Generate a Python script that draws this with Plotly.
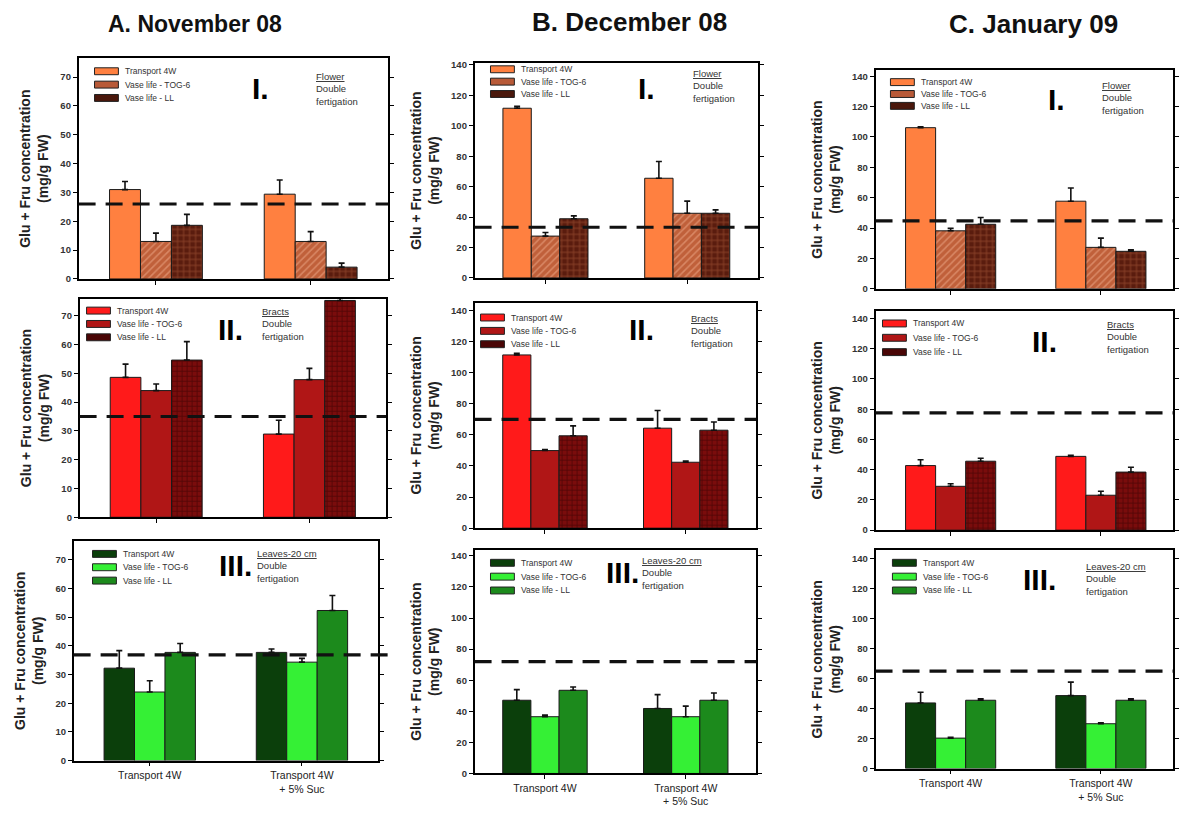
import plotly.graph_objects as go

# ---------------- data ----------------
groups = ["Transport 4W", "Transport 4W<br>+ 5% Suc"]
series_names = ["Transport 4W", "Vase life - TOG-6", "Vase life - LL"]
month_titles = ["A. November 08", "B. December 08", "C. January 09"]
organ_labels = ["Flower", "Bracts", "Leaves-20 cm"]
numerals = ["I.", "II.", "III."]
y_ticks_nov = [0, 10, 20, 30, 40, 50, 60, 70]
y_ticks_decjan = [0, 20, 40, 60, 80, 100, 120, 140]

# each list: [Transport 4W, Vase life - TOG-6, Vase life - LL], values for the two groups
nov_flower_mean = [[31.0, 29.4], [13.0, 13.0], [18.6, 4.1]]
nov_flower_err = [[2.8, 4.9], [2.9, 3.4], [3.8, 1.4]]
nov_flower_ref = 26.0
nov_bracts_mean = [[48.6, 28.9], [44.0, 47.8], [54.6, 75.3]]
nov_bracts_err = [[4.6, 4.8], [2.3, 3.9], [6.4, 1.0]]
nov_bracts_ref = 35.0
nov_leaves_mean = [[32.2, 37.7], [23.9, 34.3], [37.7, 52.3]]
nov_leaves_err = [[6.1, 1.2], [3.9, 1.3], [3.1, 5.2]]
nov_leaves_ref = 36.8

dec_flower_mean = [[111.5, 65.5], [27.5, 42.5], [38.9, 42.5]]
dec_flower_err = [[1.2, 11.0], [2.4, 8.0], [1.9, 2.2]]
dec_flower_ref = 33.3
dec_bracts_mean = [[111.4, 64.3], [49.9, 42.4], [59.4, 63.0]]
dec_bracts_err = [[1.0, 11.4], [0.6, 0.7], [6.4, 5.3]]
dec_bracts_ref = 70.0
dec_leaves_mean = [[47.1, 41.8], [36.5, 36.5], [53.5, 47.1]]
dec_leaves_err = [[6.8, 8.9], [1.0, 6.8], [2.1, 4.7]]
dec_leaves_ref = 72.0

jan_flower_mean = [[106.1, 57.7], [38.2, 27.3], [42.5, 24.7]]
jan_flower_err = [[0.5, 8.7], [1.6, 6.1], [4.5, 1.0]]
jan_flower_ref = 44.7
jan_bracts_mean = [[42.7, 48.8], [29.0, 23.1], [45.6, 38.4]]
jan_bracts_err = [[3.9, 0.7], [1.7, 2.6], [1.9, 3.2]]
jan_bracts_ref = 77.6
jan_leaves_mean = [[43.8, 48.7], [20.3, 29.9], [45.6, 45.6]]
jan_leaves_err = [[7.1, 9.0], [0.5, 0.6], [1.0, 1.0]]
jan_leaves_ref = 65.0

data = {
    (0, 0): (nov_flower_mean, nov_flower_err, nov_flower_ref),
    (1, 0): (nov_bracts_mean, nov_bracts_err, nov_bracts_ref),
    (2, 0): (nov_leaves_mean, nov_leaves_err, nov_leaves_ref),
    (0, 1): (dec_flower_mean, dec_flower_err, dec_flower_ref),
    (1, 1): (dec_bracts_mean, dec_bracts_err, dec_bracts_ref),
    (2, 1): (dec_leaves_mean, dec_leaves_err, dec_leaves_ref),
    (0, 2): (jan_flower_mean, jan_flower_err, jan_flower_ref),
    (1, 2): (jan_bracts_mean, jan_bracts_err, jan_bracts_ref),
    (2, 2): (jan_leaves_mean, jan_leaves_err, jan_leaves_ref),
}

# ---------------- layout / style ----------------
W, H = 1179, 819
FONT = "Liberation Sans, Arial, sans-serif"


def px(x):
    return x / W


def py(y):
    return 1 - y / H


# (left, right, top, bottom) in pixels
boxes = {
    (0, 0): (79, 390, 55, 278), (1, 0): (80, 388, 298, 519), (2, 0): (74, 380, 543, 765),
    (0, 1): (477, 762, 60, 277), (1, 1): (477, 760, 302, 530), (2, 1): (477, 760, 552, 778),
    (0, 2): (880, 1179, 67, 288), (1, 2): (880, 1179, 310, 532), (2, 2): (880, 1179, 552, 773),
}
y_top = {
    (0, 0): 76.5, (1, 0): 75.9, (2, 0): 76.5,
    (0, 1): 141, (1, 1): 145, (2, 1): 143.8,
    (0, 2): 143.9, (1, 2): 145.2, (2, 2): 146,
}
# legend: swatch left x, centre y of first row, row step
legend_pos = {
    (0, 0): (95, 68, 13.5), (1, 0): (87, 310, 13.5), (2, 0): (93, 556, 13.5),
    (0, 1): (493, 66, 12.5), (1, 1): (483, 317, 13.5), (2, 1): (493, 565, 14),
    (0, 2): (895, 79, 12), (1, 2): (887, 323, 14.5), (2, 2): (897, 565, 14),
}
numeral_pos = {
    (0, 0): (262, 85), (1, 0): (232, 329), (2, 0): (237, 568),
    (0, 1): (650, 85), (1, 1): (645, 329), (2, 1): (626, 575),
    (0, 2): (1062, 97), (1, 2): (1050, 341), (2, 2): (1045, 582),
}
organ_pos = {
    (0, 0): (316, 66), (1, 0): (261, 303), (2, 0): (256, 548),
    (0, 1): (695, 63), (1, 1): (693, 310), (2, 1): (643, 555),
    (0, 2): (1106, 75), (1, 2): (1111, 316), (2, 2): (1090, 561),
}
title_pos = [(196, 20), (633, 18), (1039, 20)]
title_sizes = [23, 26, 26]

row_styles = [
    [  # flower
        dict(color="#FF8040", swatch="#FF8040"),
        dict(color="#C0603A", swatch="#B85A38",
             pattern=dict(shape="/", fgcolor="#F2B090", size=5, solidity=0.3, fillmode="overlay")),
        dict(color="#5A1C0E", swatch="#4A180C",
             pattern=dict(shape="+", fgcolor="#B8643E", size=6, solidity=0.3, fillmode="overlay")),
    ],
    [  # bracts
        dict(color="#FF1A1A", swatch="#FF1A1A"),
        dict(color="#B01616", swatch="#B01616"),
        dict(color="#7A0C0C", swatch="#4A0606",
             pattern=dict(shape="+", fgcolor="#2A0000", size=5, solidity=0.3, fillmode="overlay")),
    ],
    [  # leaves
        dict(color="#0B3F0B", swatch="#0B3F0B"),
        dict(color="#35F035", swatch="#35F035"),
        dict(color="#1C8A1C", swatch="#1C8A1C"),
    ],
]

fig = go.Figure()
layout = dict(
    width=W, height=H, margin=dict(l=0, r=0, t=0, b=0),
    paper_bgcolor="white", plot_bgcolor="white",
    barmode="group", bargap=0.4, bargroupgap=0,
    font=dict(family=FONT, color="#111"), showlegend=False,
)
annotations = []
shapes = []

k = 0
for col in range(3):
    for row in range(3):
        k += 1
        key = (row, col)
        means, errs, ref = data[key]
        xa = "x" if k == 1 else f"x{k}"
        ya = "y" if k == 1 else f"y{k}"
        for s in range(3):
            style = row_styles[row][s]
            marker = dict(color=style["color"], line=dict(color="#1a1a1a", width=1))
            if "pattern" in style:
                marker["pattern"] = style["pattern"]
            fig.add_trace(go.Bar(
                x=groups, y=means[s], name=series_names[s], marker=marker,
                xaxis=xa, yaxis=ya, showlegend=False,
                error_y=dict(type="data", symmetric=False, array=errs[s], arrayminus=[0, 0],
                             color="#111", thickness=1.6, width=3),
            ))
        l, r, t, b = boxes[key]
        xrange = [-0.5, 1.48] if col == 2 else [-0.5, 1.5]
        layout["xaxis" if k == 1 else f"xaxis{k}"] = dict(
            domain=[px(l), px(r)], anchor=ya, type="category", range=xrange,
            showline=True, linecolor="black", linewidth=1.5, mirror=True,
            ticks="outside", ticklen=4, tickcolor="black",
            showticklabels=(row == 2), tickfont=dict(size=10.5, color="#222"),
            showgrid=False, zeroline=False, fixedrange=True,
        )
        ticks = y_ticks_nov if col == 0 else y_ticks_decjan
        layout["yaxis" if k == 1 else f"yaxis{k}"] = dict(
            domain=[py(b), py(t)], anchor=xa, range=[0, y_top[key]],
            tickvals=ticks, ticktext=[f"<b>{v}</b>" for v in ticks],
            showline=True, linecolor="black", linewidth=1.5, mirror="ticks",
            ticks="outside", ticklen=4, tickcolor="black",
            tickfont=dict(size=9.5, color="#333"),
            showgrid=False, zeroline=False, fixedrange=True,
            title=dict(text="<b>Glu + Fru concentration</b><br><b>(mg/g FW)</b>",
                       font=dict(size=14, color="#222"), standoff=8),
        )
        # legend (swatches + labels)
        lx, ly, step = legend_pos[key]
        for s in range(3):
            cy = ly + s * step
            shapes.append(dict(
                type="rect", xref="paper", yref="paper",
                x0=px(lx), x1=px(lx + 24), y0=py(cy + 3.5), y1=py(cy - 3.5),
                fillcolor=row_styles[row][s]["swatch"], line=dict(color="#222", width=1),
                layer="above",
            ))
            annotations.append(dict(
                text=series_names[s], x=px(lx + 29), y=py(cy), xref="paper", yref="paper",
                showarrow=False, xanchor="left", yanchor="middle",
                font=dict(size=8.5, color="#333", family=FONT),
            ))
        # dashed reference line
        shapes.append(dict(
            type="line", xref=f"{xa} domain", yref=ya, x0=0, x1=1.05 if key == (2, 0) else 1,
            y0=ref, y1=ref, line=dict(color="#111", width=3.2, dash="17px,10px"), layer="above",
        ))
        nx, ny = numeral_pos[key]
        annotations.append(dict(
            text=f"<b>{numerals[row]}</b>", x=px(nx), y=py(ny), xref="paper", yref="paper",
            showarrow=False, font=dict(size=30, color="black", family=FONT),
            xanchor="center", yanchor="middle",
        ))
        ox, oy = organ_pos[key]
        annotations.append(dict(
            text=f"<u>{organ_labels[row]}</u><br>Double<br>fertigation",
            x=px(ox), y=py(oy), xref="paper", yref="paper", showarrow=False,
            align="left", xanchor="left", yanchor="top",
            font=dict(size=9.5, color="#333", family=FONT),
        ))

for i, (tx, ty) in enumerate(title_pos):
    annotations.append(dict(
        text=f"<b>{month_titles[i]}</b>", x=px(tx), y=py(ty), xref="paper", yref="paper",
        showarrow=False, xanchor="center", yanchor="middle",
        font=dict(size=title_sizes[i], color="#111", family=FONT),
    ))

layout["annotations"] = annotations
layout["shapes"] = shapes
fig.update_layout(**layout)
fig.write_html("out.html")
